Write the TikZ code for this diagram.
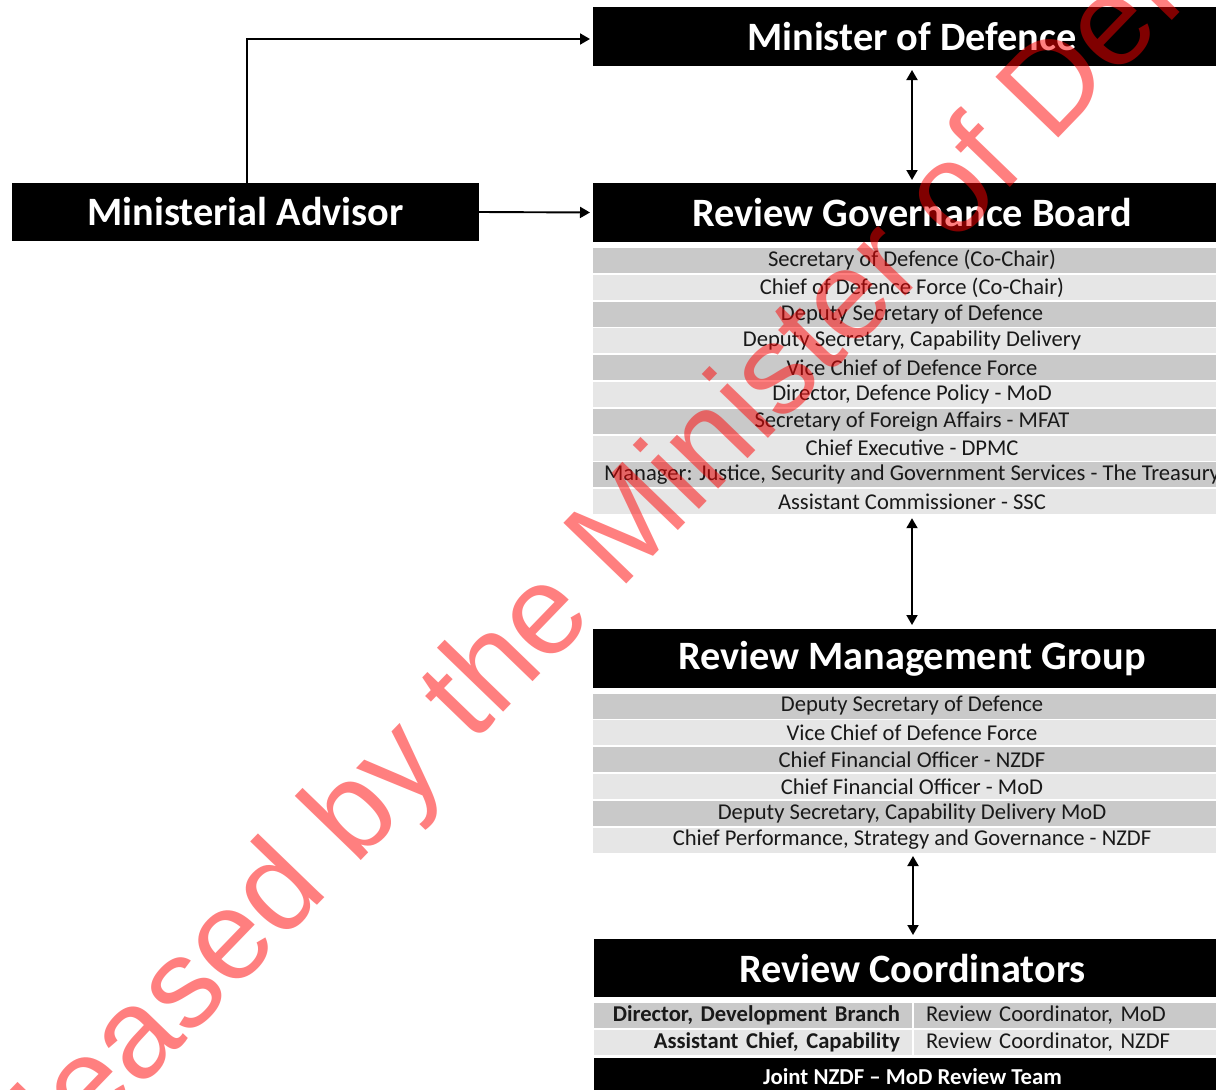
\documentclass[tikz,border=0pt]{standalone}
\usepackage{fontspec}
\setmainfont{Carlito}
\newfontfamily\wmfont{Liberation Sans}
\usetikzlibrary{arrows.meta}

\definecolor{rowdark}{HTML}{C9C9C9}
\definecolor{rowlight}{HTML}{E6E6E6}

\tikzset{
    head/.style={fill=black, text=white, inner sep=0pt, outer sep=0pt,
        minimum width=638pt, minimum height=59pt,
        font=\bfseries\fontsize{40.3}{46}\selectfont},
    row/.style={minimum width=638pt, minimum height=25pt, inner sep=0pt,
        outer sep=0pt, text=black!90, font=\fontsize{22.6}{26}\selectfont},
    row1/.style={fill=rowdark},
    row0/.style={fill=rowlight},
    link/.style={line width=1.9pt, -{Triangle[length=10pt,width=11pt]}},
    both/.style={line width=1.9pt,
        {Triangle[length=10pt,width=11pt]}-{Triangle[length=10pt,width=11pt]}}
}

\begin{document}
\begin{tikzpicture}[x=1pt,y=-1pt]
    \useasboundingbox (0,0) rectangle (1216,1090);
    \clip (0,0) rectangle (1216,1090);

    % top of the chart
    \node[head] (mod) at (912,36.5) {Minister of Defence};
    \node[head] (rgb) at (912,212.5) {Review Governance Board};
    \node[head, minimum width=467pt, minimum height=58pt] (adv) at (245.5,212) {Ministerial Advisor};

    \foreach \t [count=\i] in {Secretary of Defence (Co-Chair),
            Chief of Defence Force (Co-Chair),
            Deputy Secretary of Defence,
            {Deputy Secretary, Capability Delivery},
            Vice Chief of Defence Force,
            {Director, Defence Policy - MoD},
            Secretary of Foreign Affairs - MFAT,
            Chief Executive - DPMC,
            {Manager: Justice, Security and Government Services - The Treasury},
            Assistant Commissioner - SSC} {
        \pgfmathtruncatemacro\k{mod(\i,2)}
        \node[row, row\k] (g\i) at (912,{260.5+26.8*(\i-1)}) {\t};
    }

    % management group
    \node[head] (rmg) at (912,658.5) {Review Management Group};
    \foreach \t [count=\i] in {Deputy Secretary of Defence,
            Vice Chief of Defence Force,
            Chief Financial Officer - NZDF,
            Chief Financial Officer - MoD,
            {Deputy Secretary, Capability Delivery MoD},
            {Chief Performance, Strategy and Governance - NZDF}} {
        \pgfmathtruncatemacro\k{mod(\i,2)}
        \node[row, row\k] (m\i) at (912,{706+26.8*(\i-1)}) {\t};
    }

    % coordinators
    \node[head, minimum height=58pt] (rc) at (912.5,968) {Review Coordinators};
    \node[row, row1, minimum width=318pt, text width=294pt, inner xsep=12pt, align=right,
        font=\bfseries\fontsize{22.6}{26}\selectfont] (c1) at (753,1015.5) {Director, Development Branch};
    \node[row, row1, minimum width=317pt, text width=293pt, inner xsep=12pt, align=left] (d1) at (1072.5,1015.5) {Review Coordinator, MoD};
    \node[row, row0, minimum width=318pt, text width=294pt, inner xsep=12pt, align=right,
        font=\bfseries\fontsize{22.6}{26}\selectfont] (c2) at (753,1042.5) {Assistant Chief, Capability};
    \node[row, row0, minimum width=317pt, text width=293pt, inner xsep=12pt, align=left] (d2) at (1072.5,1042.5) {Review Coordinator, NZDF};
    \node[head, minimum height=38pt, font=\bfseries\fontsize{22.8}{26}\selectfont] (jt) at (912.5,1077) {Joint NZDF – MoD Review Team};

    % connectors
    \draw[link, shorten >=3pt] ([xshift=1.5pt]adv.north) |- ([yshift=-2.5pt]mod.west);
    \draw[link, shorten >=3pt] (adv.east) -- (rgb.west);
    \draw[both, shorten <=4pt, shorten >=3pt] (mod.south) -- (rgb.north);
    \draw[both, shorten <=4pt, shorten >=4pt] (g10.south) -- (rmg.north);
    \draw[both, shorten <=3.5pt, shorten >=4pt] ([xshift=1pt]m6.south) -- ([xshift=0.5pt]rc.north);

    % watermark
    \node[rotate=46, anchor=base, text=red, opacity=0.5, inner sep=0pt,
        font=\wmfont\fontsize{127}{130}\selectfont] (wm) at (669,541) {Released by the Minister of Defence};
\end{tikzpicture}
\end{document}
